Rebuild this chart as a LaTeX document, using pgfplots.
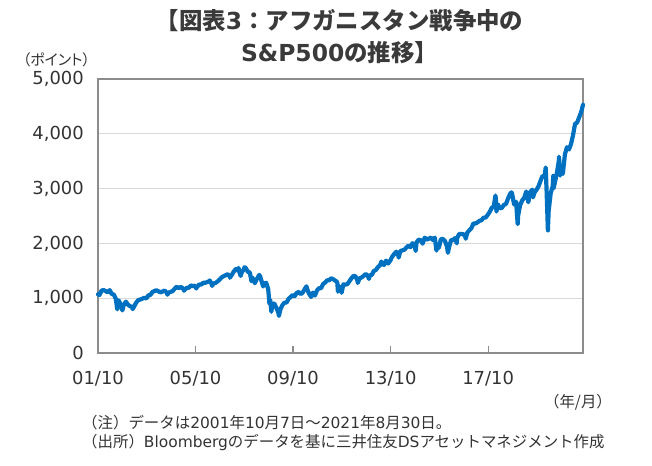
\documentclass[border=0pt]{standalone}
\usepackage{fontspec}
\usepackage{pgfplots}
\pgfplotsset{compat=1.18}
\setmainfont{Noto Sans CJK JP}
\newfontfamily\cjkp{Noto Sans CJK JP}[RawFeature=+palt]
\newfontfamily\dejavu{DejaVu Sans}
\newcommand\Lt[1]{{\dejavu #1}}
\definecolor{spx}{HTML}{0070C0}
\definecolor{titlec}{HTML}{3A3A3A}
\definecolor{tickc}{HTML}{333333}
\definecolor{framec}{HTML}{8C8C8C}
\definecolor{gridc}{HTML}{D9D9D9}
\pgfplotstableread{
x y
2001.77 1071
2001.833 1059
2001.917 1139
2002.0 1148
2002.083 1130
2002.167 1107
2002.25 1147
2002.333 1077
2002.417 1067
2002.5 990
2002.56 797
2002.583 912
2002.62 960
2002.667 916
2002.75 815
2002.77 777
2002.833 886
2002.917 936
2003.0 880
2003.083 856
2003.167 841
2003.19 800
2003.25 848
2003.333 917
2003.417 964
2003.5 975
2003.583 990
2003.667 1008
2003.75 996
2003.833 1051
2003.917 1058
2004.0 1112
2004.083 1131
2004.167 1145
2004.25 1126
2004.333 1107
2004.417 1121
2004.5 1141
2004.583 1102
2004.62 1064
2004.667 1104
2004.75 1115
2004.833 1130
2004.917 1174
2005.0 1212
2005.083 1181
2005.167 1204
2005.25 1181
2005.30 1137
2005.333 1157
2005.417 1192
2005.5 1191
2005.583 1234
2005.667 1220
2005.75 1229
2005.80 1177
2005.833 1207
2005.917 1249
2006.0 1248
2006.083 1280
2006.167 1281
2006.25 1295
2006.333 1311
2006.35 1325
2006.417 1270
2006.45 1224
2006.5 1270
2006.583 1277
2006.667 1304
2006.75 1336
2006.833 1378
2006.917 1401
2007.0 1418
2007.083 1438
2007.167 1407
2007.18 1374
2007.25 1421
2007.333 1482
2007.417 1531
2007.5 1503
2007.53 1553
2007.583 1455
2007.62 1406
2007.667 1474
2007.75 1527
2007.78 1565
2007.833 1549
2007.917 1481
2008.0 1468
2008.06 1310
2008.083 1379
2008.167 1331
2008.20 1273
2008.25 1323
2008.333 1386
2008.38 1426
2008.417 1400
2008.5 1280
2008.54 1215
2008.583 1267
2008.667 1283
2008.75 1166
2008.80 899
2008.833 969
2008.88 752
2008.917 896
2009.0 903
2009.083 826
2009.167 735
2009.19 677
2009.25 798
2009.333 873
2009.417 919
2009.5 919
2009.583 987
2009.667 1021
2009.75 1057
2009.833 1036
2009.917 1096
2010.0 1115
2010.083 1074
2010.167 1104
2010.25 1169
2010.32 1217
2010.333 1187
2010.417 1089
2010.5 1031
2010.51 1022
2010.583 1102
2010.667 1049
2010.75 1141
2010.833 1183
2010.917 1181
2011.0 1258
2011.083 1286
2011.167 1327
2011.25 1326
2011.333 1364
2011.417 1345
2011.5 1321
2011.583 1292
2011.61 1119
2011.667 1219
2011.75 1131
2011.76 1099
2011.833 1253
2011.917 1247
2012.0 1258
2012.083 1312
2012.167 1366
2012.25 1408
2012.333 1398
2012.417 1310
2012.42 1278
2012.5 1362
2012.583 1379
2012.667 1407
2012.75 1441
2012.833 1412
2012.88 1353
2012.917 1416
2013.0 1426
2013.083 1498
2013.167 1515
2013.25 1569
2013.333 1598
2013.39 1669
2013.417 1631
2013.5 1606
2013.583 1686
2013.667 1633
2013.75 1682
2013.833 1757
2013.917 1806
2014.0 1848
2014.083 1783
2014.10 1741
2014.167 1859
2014.25 1872
2014.333 1884
2014.417 1924
2014.5 1960
2014.583 1931
2014.667 2003
2014.75 1972
2014.80 1862
2014.833 2018
2014.917 2068
2015.0 2059
2015.083 1995
2015.167 2105
2015.25 2068
2015.333 2086
2015.417 2107
2015.5 2063
2015.583 2104
2015.65 1868
2015.667 1972
2015.75 1920
2015.833 2079
2015.917 2080
2016.0 2044
2016.083 1940
2016.12 1829
2016.167 1932
2016.25 2060
2016.333 2065
2016.417 2097
2016.48 2001
2016.5 2099
2016.583 2174
2016.667 2171
2016.75 2168
2016.833 2126
2016.85 2085
2016.917 2199
2017.0 2239
2017.083 2279
2017.167 2364
2017.25 2363
2017.333 2384
2017.417 2412
2017.5 2423
2017.583 2470
2017.667 2472
2017.75 2519
2017.833 2575
2017.917 2648
2018.0 2674
2018.07 2873
2018.083 2824
2018.11 2581
2018.167 2714
2018.25 2641
2018.333 2648
2018.417 2705
2018.5 2718
2018.583 2816
2018.667 2902
2018.72 2931
2018.75 2914
2018.833 2712
2018.917 2760
2018.98 2351
2019.0 2507
2019.083 2704
2019.167 2784
2019.25 2834
2019.333 2946
2019.417 2752
2019.5 2942
2019.583 2980
2019.61 2840
2019.667 2926
2019.75 2977
2019.833 3038
2019.917 3141
2020.0 3231
2020.083 3226
2020.13 3386
2020.167 2954
2020.22 2237
2020.25 2585
2020.333 2912
2020.417 3044
2020.44 3232
2020.45 3002
2020.5 3100
2020.583 3271
2020.667 3500
2020.675 3580
2020.72 3237
2020.75 3363
2020.833 3270
2020.917 3622
2021.0 3756
2021.083 3714
2021.167 3811
2021.25 3973
2021.333 4181
2021.417 4204
2021.5 4298
2021.583 4395
2021.66 4529
}\spxdata
\begin{document}
\begin{tikzpicture}[x=1bp,y=1bp]
\path[use as bounding box] (-98,-113) rectangle (554,353);
\begin{axis}[
  at={(0,0)}, anchor=south west,
  scale only axis, width=485bp, height=274bp,
  xmin=2001.77, xmax=2021.66, ymin=0, ymax=5000,
  axis line style={draw=framec, line width=1.3bp},
  ymajorgrids, grid style={draw=gridc, line width=1.3bp},
  ytick={0,1000,2000,3000,4000,5000},
  yticklabels={0,{1,000},{2,000},{3,000},{4,000},{5,000}},
  xtick={2001.77,2005.77,2009.77,2013.77,2017.77},
  xticklabels={01/10,05/10,09/10,13/10,17/10},
  ytick style={draw=none},
  xtick style={draw=framec, line width=1.3bp},
  xtick pos=bottom, ytick pos=left,
  tick align=inside, major tick length=7bp,
  yticklabel style={font=\dejavu\fontsize{18}{18}\selectfont, text=tickc, inner sep=0pt, anchor=east, xshift=-14bp},
  xticklabel style={font=\dejavu\fontsize{18}{18}\selectfont, text=tickc, inner sep=0pt, anchor=north, yshift=-18bp},
  clip=false,
]
\addplot[color=spx, line width=4.2bp, line join=round, line cap=round] table[x=x,y=y] {\spxdata};
\end{axis}
\node[font=\fontsize{23.5}{23.5}\selectfont\bfseries, text=titlec, inner sep=0pt] at (241.5,332) {【図表\Lt{3}：アフガニスタン戦争中の};
\node[font=\fontsize{23.5}{23.5}\selectfont\bfseries, text=titlec, inner sep=0pt] at (241.5,300) {\Lt{S\&P500}の推移】};
\node[font=\cjkp\fontsize{15}{15}\selectfont, text=tickc, inner sep=0pt] at (-41.5,293) {（ポイント）};
\node[font=\fontsize{15.5}{15.5}\selectfont, text=tickc, inner sep=0pt] at (480,-49) {（年/月）};
\node[font=\fontsize{15.5}{15.5}\selectfont, text=tickc, inner sep=0pt, anchor=west] at (-16,-70) {（注）データは\Lt{2001}年\Lt{10}月\Lt{7}日～\Lt{2021}年\Lt{8}月\Lt{30}日。};
\node[font=\fontsize{15.5}{15.5}\selectfont, text=tickc, inner sep=0pt, anchor=west] at (-16,-89) {（出所）\Lt{Bloomberg}のデータを基に三井住友\Lt{DS}アセットマネジメント作成};
\end{tikzpicture}
\end{document}
